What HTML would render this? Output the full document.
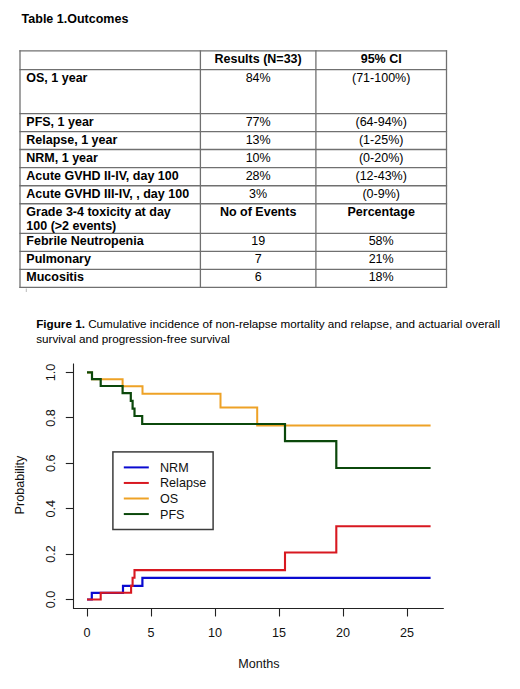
<!DOCTYPE html>
<html><head><meta charset="utf-8"><style>
html,body{margin:0;padding:0;background:#fff;}
body{width:520px;height:689px;position:relative;overflow:hidden;font-family:"Liberation Sans", sans-serif;}
svg text{font-family:"Liberation Sans", sans-serif;}
</style></head><body>
<div style="position:absolute;left:21.6px;top:8.57px;font-size:12.5px;line-height:20px;font-weight:bold;color:#000;white-space:nowrap;">Table 1.Outcomes</div><svg style="position:absolute;left:0;top:0" width="520" height="300"><line x1="19.4" y1="50.9" x2="447.1" y2="50.9" stroke="#707070" stroke-width="1.3"/><line x1="19.4" y1="69.6" x2="447.1" y2="69.6" stroke="#707070" stroke-width="1.3"/><line x1="19.4" y1="113.6" x2="447.1" y2="113.6" stroke="#707070" stroke-width="1.3"/><line x1="19.4" y1="131.6" x2="447.1" y2="131.6" stroke="#707070" stroke-width="1.3"/><line x1="19.4" y1="149.5" x2="447.1" y2="149.5" stroke="#707070" stroke-width="1.3"/><line x1="19.4" y1="167.6" x2="447.1" y2="167.6" stroke="#707070" stroke-width="1.3"/><line x1="19.4" y1="185.75" x2="447.1" y2="185.75" stroke="#707070" stroke-width="1.3"/><line x1="19.4" y1="203.75" x2="447.1" y2="203.75" stroke="#707070" stroke-width="1.3"/><line x1="19.4" y1="233.4" x2="447.1" y2="233.4" stroke="#707070" stroke-width="1.3"/><line x1="19.4" y1="251.4" x2="447.1" y2="251.4" stroke="#707070" stroke-width="1.3"/><line x1="19.4" y1="269.4" x2="447.1" y2="269.4" stroke="#707070" stroke-width="1.3"/><line x1="19.4" y1="287.3" x2="447.1" y2="287.3" stroke="#707070" stroke-width="1.3"/><line x1="20.0" y1="50.3" x2="20.0" y2="287.90000000000003" stroke="#707070" stroke-width="1.3"/><line x1="200.4" y1="50.3" x2="200.4" y2="287.90000000000003" stroke="#707070" stroke-width="1.3"/><line x1="315.9" y1="50.3" x2="315.9" y2="287.90000000000003" stroke="#707070" stroke-width="1.3"/><line x1="446.5" y1="50.3" x2="446.5" y2="287.90000000000003" stroke="#707070" stroke-width="1.3"/><line x1="26.3" y1="288.5" x2="26.3" y2="292" stroke="#bbb" stroke-width="1"/></svg><div style="position:absolute;left:26.3px;top:49.17px;font-size:12.5px;line-height:20px;font-weight:bold;color:#000;white-space:nowrap;"></div><div style="position:absolute;left:58.14999999999998px;width:400px;text-align:center;top:49.17px;font-size:12.5px;line-height:20px;font-weight:bold;color:#000;white-space:nowrap;">Results (N=33)</div><div style="position:absolute;left:181.2px;width:400px;text-align:center;top:49.17px;font-size:12.5px;line-height:20px;font-weight:bold;color:#000;white-space:nowrap;">95% CI</div><div style="position:absolute;left:26.3px;top:67.87px;font-size:12.5px;line-height:20px;font-weight:bold;color:#000;white-space:nowrap;">OS, 1 year</div><div style="position:absolute;left:58.14999999999998px;width:400px;text-align:center;top:67.87px;font-size:12.5px;line-height:20px;font-weight:normal;color:#000;white-space:nowrap;">84%</div><div style="position:absolute;left:181.2px;width:400px;text-align:center;top:67.87px;font-size:12.5px;line-height:20px;font-weight:normal;color:#000;white-space:nowrap;">(71-100%)</div><div style="position:absolute;left:26.3px;top:111.87px;font-size:12.5px;line-height:20px;font-weight:bold;color:#000;white-space:nowrap;">PFS, 1 year</div><div style="position:absolute;left:58.14999999999998px;width:400px;text-align:center;top:111.87px;font-size:12.5px;line-height:20px;font-weight:normal;color:#000;white-space:nowrap;">77%</div><div style="position:absolute;left:181.2px;width:400px;text-align:center;top:111.87px;font-size:12.5px;line-height:20px;font-weight:normal;color:#000;white-space:nowrap;">(64-94%)</div><div style="position:absolute;left:26.3px;top:129.87px;font-size:12.5px;line-height:20px;font-weight:bold;color:#000;white-space:nowrap;">Relapse, 1 year</div><div style="position:absolute;left:58.14999999999998px;width:400px;text-align:center;top:129.87px;font-size:12.5px;line-height:20px;font-weight:normal;color:#000;white-space:nowrap;">13%</div><div style="position:absolute;left:181.2px;width:400px;text-align:center;top:129.87px;font-size:12.5px;line-height:20px;font-weight:normal;color:#000;white-space:nowrap;">(1-25%)</div><div style="position:absolute;left:26.3px;top:147.77px;font-size:12.5px;line-height:20px;font-weight:bold;color:#000;white-space:nowrap;">NRM, 1 year</div><div style="position:absolute;left:58.14999999999998px;width:400px;text-align:center;top:147.77px;font-size:12.5px;line-height:20px;font-weight:normal;color:#000;white-space:nowrap;">10%</div><div style="position:absolute;left:181.2px;width:400px;text-align:center;top:147.77px;font-size:12.5px;line-height:20px;font-weight:normal;color:#000;white-space:nowrap;">(0-20%)</div><div style="position:absolute;left:26.3px;top:165.87px;font-size:12.5px;line-height:20px;font-weight:bold;color:#000;white-space:nowrap;">Acute GVHD II-IV, day 100</div><div style="position:absolute;left:58.14999999999998px;width:400px;text-align:center;top:165.87px;font-size:12.5px;line-height:20px;font-weight:normal;color:#000;white-space:nowrap;">28%</div><div style="position:absolute;left:181.2px;width:400px;text-align:center;top:165.87px;font-size:12.5px;line-height:20px;font-weight:normal;color:#000;white-space:nowrap;">(12-43%)</div><div style="position:absolute;left:26.3px;top:184.02px;font-size:12.5px;line-height:20px;font-weight:bold;color:#000;white-space:nowrap;">Acute GVHD III-IV, , day 100</div><div style="position:absolute;left:58.14999999999998px;width:400px;text-align:center;top:184.02px;font-size:12.5px;line-height:20px;font-weight:normal;color:#000;white-space:nowrap;">3%</div><div style="position:absolute;left:181.2px;width:400px;text-align:center;top:184.02px;font-size:12.5px;line-height:20px;font-weight:normal;color:#000;white-space:nowrap;">(0-9%)</div><div style="position:absolute;left:26.3px;top:201.92px;font-size:12.5px;line-height:20px;font-weight:bold;color:#000;white-space:nowrap;">Grade 3-4 toxicity at day</div><div style="position:absolute;left:26.3px;top:215.92px;font-size:12.5px;line-height:20px;font-weight:bold;color:#000;white-space:nowrap;">100 (&gt;2 events)</div><div style="position:absolute;left:58.14999999999998px;width:400px;text-align:center;top:201.92px;font-size:12.5px;line-height:20px;font-weight:bold;color:#000;white-space:nowrap;">No of Events</div><div style="position:absolute;left:181.2px;width:400px;text-align:center;top:201.92px;font-size:12.5px;line-height:20px;font-weight:bold;color:#000;white-space:nowrap;">Percentage</div><div style="position:absolute;left:26.3px;top:230.67px;font-size:12.5px;line-height:20px;font-weight:bold;color:#000;white-space:nowrap;">Febrile Neutropenia</div><div style="position:absolute;left:58.14999999999998px;width:400px;text-align:center;top:230.67px;font-size:12.5px;line-height:20px;font-weight:normal;color:#000;white-space:nowrap;">19</div><div style="position:absolute;left:181.2px;width:400px;text-align:center;top:230.67px;font-size:12.5px;line-height:20px;font-weight:normal;color:#000;white-space:nowrap;">58%</div><div style="position:absolute;left:26.3px;top:248.67px;font-size:12.5px;line-height:20px;font-weight:bold;color:#000;white-space:nowrap;">Pulmonary</div><div style="position:absolute;left:58.14999999999998px;width:400px;text-align:center;top:248.67px;font-size:12.5px;line-height:20px;font-weight:normal;color:#000;white-space:nowrap;">7</div><div style="position:absolute;left:181.2px;width:400px;text-align:center;top:248.67px;font-size:12.5px;line-height:20px;font-weight:normal;color:#000;white-space:nowrap;">21%</div><div style="position:absolute;left:26.3px;top:266.67px;font-size:12.5px;line-height:20px;font-weight:bold;color:#000;white-space:nowrap;">Mucositis</div><div style="position:absolute;left:58.14999999999998px;width:400px;text-align:center;top:266.67px;font-size:12.5px;line-height:20px;font-weight:normal;color:#000;white-space:nowrap;">6</div><div style="position:absolute;left:181.2px;width:400px;text-align:center;top:266.67px;font-size:12.5px;line-height:20px;font-weight:normal;color:#000;white-space:nowrap;">18%</div><div style="position:absolute;left:36.2px;top:314.15px;font-size:11.7px;line-height:20px;font-weight:normal;color:#000;white-space:nowrap;"><b>Figure 1.</b> Cumulative incidence of non-relapse mortality and relapse, and actuarial overall</div><div style="position:absolute;left:36.2px;top:328.95px;font-size:11.7px;line-height:20px;font-weight:normal;color:#000;white-space:nowrap;">survival and progression-free survival</div>
<svg style="position:absolute;left:0;top:0" width="520" height="689"><path d="M73.5,363.5 L73.5,608.5 L443.8,608.5" fill="none" stroke="#222" stroke-width="1.1"/><line x1="65.8" y1="599.50" x2="73.5" y2="599.50" stroke="#222" stroke-width="1.1"/><line x1="65.8" y1="554.50" x2="73.5" y2="554.50" stroke="#222" stroke-width="1.1"/><line x1="65.8" y1="508.50" x2="73.5" y2="508.50" stroke="#222" stroke-width="1.1"/><line x1="65.8" y1="463.50" x2="73.5" y2="463.50" stroke="#222" stroke-width="1.1"/><line x1="65.8" y1="417.50" x2="73.5" y2="417.50" stroke="#222" stroke-width="1.1"/><line x1="65.8" y1="372.50" x2="73.5" y2="372.50" stroke="#222" stroke-width="1.1"/><line x1="87.50" y1="608.5" x2="87.50" y2="616.5" stroke="#222" stroke-width="1.1"/><line x1="151.50" y1="608.5" x2="151.50" y2="616.5" stroke="#222" stroke-width="1.1"/><line x1="215.50" y1="608.5" x2="215.50" y2="616.5" stroke="#222" stroke-width="1.1"/><line x1="279.50" y1="608.5" x2="279.50" y2="616.5" stroke="#222" stroke-width="1.1"/><line x1="343.50" y1="608.5" x2="343.50" y2="616.5" stroke="#222" stroke-width="1.1"/><line x1="407.50" y1="608.5" x2="407.50" y2="616.5" stroke="#222" stroke-width="1.1"/><path d="M87.00,372.40 L92.00,372.40 L92.00,379.20 L122.60,379.20 L122.60,386.20 L142.50,386.20 L142.50,393.80 L220.50,393.80 L220.50,407.50 L257.20,407.50 L257.20,425.40 L430.60,425.40" fill="none" stroke="#eea226" stroke-width="2.0"/><path d="M87.00,372.40 L92.00,372.40 L92.00,379.20 L100.70,379.20 L100.70,386.00 L122.60,386.00 L122.60,393.20 L130.80,393.20 L130.80,400.90 L132.60,400.90 L132.60,408.60 L134.50,408.60 L134.50,416.00 L142.20,416.00 L142.20,424.00 L285.00,424.00 L285.00,441.20 L336.30,441.20 L336.30,468.00 L430.60,468.00" fill="none" stroke="#0b480b" stroke-width="2.2"/><path d="M87.00,599.50 L91.80,599.50 L91.80,592.80 L123.00,592.80 L123.00,585.90 L142.40,585.90 L142.40,577.80 L430.60,577.80" fill="none" stroke="#0a0ad0" stroke-width="2.2"/><path d="M87.00,599.50 L100.70,599.50 L100.70,592.80 L131.10,592.80 L131.10,585.90 L132.60,585.90 L132.60,577.70 L134.50,577.70 L134.50,570.10 L285.00,570.10 L285.00,552.50 L336.30,552.50 L336.30,526.30 L430.60,526.30" fill="none" stroke="#d81820" stroke-width="2.1"/><rect x="112.9" y="451.9" width="100.2" height="77.6" fill="white" stroke="#3c3c3c" stroke-width="1.5"/><line x1="123.8" y1="467.40" x2="148.8" y2="467.40" stroke="#0a0ad0" stroke-width="2"/><text x="160" y="471.90" font-size="12.6" fill="#111">NRM</text><line x1="123.8" y1="482.95" x2="148.8" y2="482.95" stroke="#d81820" stroke-width="2"/><text x="160" y="487.45" font-size="12.6" fill="#111">Relapse</text><line x1="123.8" y1="498.50" x2="148.8" y2="498.50" stroke="#eea226" stroke-width="2"/><text x="160" y="503.00" font-size="12.6" fill="#111">OS</text><line x1="123.8" y1="514.05" x2="148.8" y2="514.05" stroke="#0b480b" stroke-width="2"/><text x="160" y="518.55" font-size="12.6" fill="#111">PFS</text><text x="87.00" y="637.1" font-size="12.6" fill="#111" text-anchor="middle">0</text><text x="151.00" y="637.1" font-size="12.6" fill="#111" text-anchor="middle">5</text><text x="215.00" y="637.1" font-size="12.6" fill="#111" text-anchor="middle">10</text><text x="279.00" y="637.1" font-size="12.6" fill="#111" text-anchor="middle">15</text><text x="343.00" y="637.1" font-size="12.6" fill="#111" text-anchor="middle">20</text><text x="407.00" y="637.1" font-size="12.6" fill="#111" text-anchor="middle">25</text><text transform="translate(55.3,599.50) rotate(-90)" font-size="12.6" fill="#111" text-anchor="middle">0.0</text><text transform="translate(55.3,554.10) rotate(-90)" font-size="12.6" fill="#111" text-anchor="middle">0.2</text><text transform="translate(55.3,508.70) rotate(-90)" font-size="12.6" fill="#111" text-anchor="middle">0.4</text><text transform="translate(55.3,463.30) rotate(-90)" font-size="12.6" fill="#111" text-anchor="middle">0.6</text><text transform="translate(55.3,417.90) rotate(-90)" font-size="12.6" fill="#111" text-anchor="middle">0.8</text><text transform="translate(55.3,372.50) rotate(-90)" font-size="12.6" fill="#111" text-anchor="middle">1.0</text><text transform="translate(23.8,485) rotate(-90)" font-size="12.6" fill="#111" text-anchor="middle">Probability</text><text x="259" y="668.3" font-size="12.6" fill="#111" text-anchor="middle">Months</text></svg>
</body></html>
